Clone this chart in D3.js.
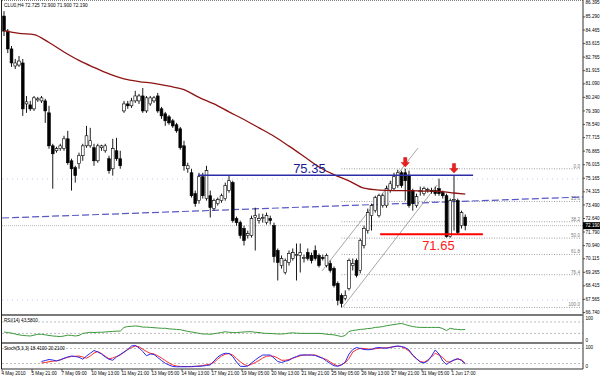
<!DOCTYPE html>
<html>
<head>
<meta charset="utf-8">
<script src="https://cdnjs.cloudflare.com/ajax/libs/d3/7.8.5/d3.min.js"></script>
<style>
  body { margin: 0; background: #fff; }
  svg { display: block; }
  text { font-family: "Liberation Sans", Arial, sans-serif; }
</style>
</head>
<body>
<div id="chart"></div>
<script>
// CLU0 H4 chart with SMA, channel, fibo levels, RSI and Stochastic windows

const chartTitle = 'CLU0,H4  72.725 72.900 71.900 72.190';

const opens = [85.34,84.40,83.28,82.21,82.27,82.40,79.83,79.77,79.52,80.08,
  80.02,80.02,79.27,77.20,76.89,77.02,77.02,77.64,76.26,75.83,
  76.08,76.58,77.20,77.20,77.08,76.26,77.08,76.89,76.39,75.76,
  76.89,76.39,79.39,79.83,79.71,80.02,80.02,80.33,79.39,79.83,
  80.02,80.33,79.52,79.21,79.02,78.77,78.52,78.27,77.20,75.76,
  75.51,74.20,73.76,75.26,73.89,74.07,73.26,73.57,73.76,73.89,
  74.39,74.89,72.63,72.38,72.01,71.57,71.57,72.70,72.51,72.63,
  72.38,72.63,72.19,70.63,69.69,69.25,69.88,70.13,70.32,70.32,
  70.13,70.50,70.32,70.63,70.32,70.19,69.69,69.82,69.50,68.56,
  67.81,67.63,68.25,69.69,70.00,69.38,70.95,71.88,72.82,73.13,
  72.82,73.45,73.45,74.39,74.51,74.70,75.51,75.51,75.33,74.39,
  73.45,74.32,74.20,74.39,74.39,74.39,74.51,74.26,74.07,71.51,
  73.76,73.76,72.19,72.725];
const highs = [85.65,84.53,83.46,82.65,82.84,82.65,80.33,80.02,80.33,80.27,
  80.33,80.15,79.71,77.33,77.14,77.33,77.83,78.14,76.39,75.95,
  76.77,77.33,78.45,78.33,77.33,77.33,77.27,77.33,76.58,77.64,
  77.70,76.89,80.02,80.02,80.21,80.65,80.46,80.83,80.33,80.33,
  80.33,80.52,79.64,79.33,79.14,78.89,78.64,78.39,77.52,76.14,
  75.76,74.39,75.51,75.51,75.95,74.39,73.89,73.95,74.20,74.89,
  75.33,75.01,72.76,72.51,72.19,71.88,72.82,73.32,72.94,72.94,
  73.01,72.82,72.38,70.76,70.32,70.13,70.63,70.76,71.07,71.07,
  70.38,70.76,70.50,70.95,70.44,70.38,70.44,70.00,69.63,68.69,
  67.94,68.13,70.13,70.13,70.13,71.38,72.19,73.26,73.57,74.07,
  74.20,74.20,74.70,75.01,75.51,75.70,75.64,75.76,75.64,74.51,
  74.20,74.64,74.64,74.57,74.57,74.64,75.14,74.39,74.20,73.89,
  75.33,73.89,73.13,72.90];
const lows = [84.09,83.02,82.15,82.02,82.15,79.08,79.27,79.39,79.39,79.96,
  79.89,78.64,77.02,74.51,76.77,76.89,76.89,76.01,74.39,74.89,
  75.76,76.26,77.08,77.08,75.95,76.14,76.89,76.77,75.45,75.33,
  76.26,75.76,79.27,79.52,79.58,79.89,79.83,79.27,79.27,79.71,
  79.89,79.27,78.89,78.45,78.52,78.33,78.02,76.95,75.64,75.51,
  73.95,73.38,73.57,73.89,73.76,72.70,73.13,73.45,73.63,73.76,
  74.26,72.38,72.19,71.38,70.95,71.38,71.44,70.63,72.32,72.38,
  72.26,72.26,69.88,68.75,69.50,69.13,69.69,70.00,68.75,69.25,
  69.88,70.00,69.82,70.00,69.57,70.00,69.57,69.25,68.31,67.19,
  67.06,67.50,68.13,69.38,68.94,69.19,70.76,71.69,71.88,73.01,
  72.70,73.32,73.32,74.26,74.39,74.57,74.57,73.76,73.32,73.13,
  73.32,74.07,74.07,74.26,74.20,74.07,74.07,73.89,71.44,71.44,
  71.88,71.63,72.01,71.90];
const closes = [84.40,83.28,82.40,82.40,82.52,79.52,79.96,79.52,80.21,80.15,
  80.21,79.39,77.20,76.70,77.02,77.20,77.64,76.14,75.76,75.33,
  76.58,77.20,77.83,77.52,76.26,77.20,77.20,77.20,75.64,77.02,
  76.39,75.95,79.83,79.71,80.02,80.33,80.33,79.39,80.21,80.21,
  80.21,79.39,79.08,78.77,78.64,78.45,78.14,77.08,75.95,75.95,
  74.07,73.57,75.26,74.07,75.64,73.32,73.76,73.82,74.07,74.70,
  75.01,72.51,72.38,71.57,71.26,71.69,72.63,72.82,72.63,72.70,
  72.82,72.51,70.25,69.88,70.13,70.00,70.44,70.50,70.38,70.50,
  70.19,70.13,70.00,70.13,69.69,70.13,70.32,69.38,68.44,67.50,
  67.31,67.81,70.00,69.82,69.07,71.26,72.01,73.01,73.45,73.95,
  74.07,74.07,74.51,74.82,75.26,75.51,74.70,75.01,73.45,73.57,
  74.01,74.39,74.51,74.45,74.32,74.20,74.20,74.07,71.51,73.76,
  73.82,71.76,73.01,72.19];

// moving average, read every 4th bar
const maBars = [0,4,8,12,16,20,24,28,32,36,40,44,48,52,56,60,64,68,72,76,80,84,88,92,96,100,104,108,112,116,120,123];
const maValues = [84.43,84.26,84.18,83.68,83.09,82.56,82.12,81.71,81.40,81.23,81.12,80.94,80.73,80.24,79.83,79.33,
  78.85,78.33,77.80,77.18,76.53,75.87,75.39,75.00,74.54,74.42,74.39,74.39,74.36,74.34,74.24,74.17];

const rsiValues = [35,33,31,28,25,23,22,21,24,27, 27,25,23,21,20,19,21,24,23,21,
  23,30,32,34,33,34,34,35,36,37, 38,38,51,54,55,56,55,52,52,51,
  50,49,48,48,46,45,44,43,40,37, 35,33,30,28,28,27,29,31,33,36,
  34,33,33,34,35,36,36,34,33,31, 30,30,29,28,28,29,31,32,31,30,
  30,30,30,30,30,29,27,26,25,22, 19,23,37,40,42,44,45,47,48,51,
  52,54,57,59,61,63,65,61,57,54, 52,51,51,51,51,51,51,47,40,48,
  45,44,43,43.58];

const stochStartBar = 10;
const stochMain = [28,32,36,34,30,35,41,46,50,48, 45,37,50,61,72,66,58,46,37,33,
  46,56,66,76,90,92,83,68,51,58, 56,44,32,21,14,8,7,7,7,7,
  8,9,9,10,12,14,30,46,56,61, 60,48,26,9,8,10,22,34,45,54,
  54,54,42,28,24,29,33,42,48,54, 54,54,54,52,46,41,30,20,11,9,
  14,26,58,76,84,80,76,75,76,82, 84,82,81,84,88,90,88,84,74,54,
  40,26,22,30,50,74,58,30,16,27, 34,40,32,18.41];
const stochSignal = [22,24,27,29,31,34,40,45,48,49, 50,46,41,50,62,68,60,49,39,42,
  48,54,65,76,84,90,87,77,68,61, 58,51,42,32,22,14,10,8,8,8,
  7,8,10,12,15,18,24,38,50,57, 60,54,40,27,16,11,17,24,32,42,
  49,50,49,42,33,33,36,41,46,51, 54,54,54,54,48,41,36,26,17,10,
  16,23,40,66,75,81,80,78,77,79, 81,82,83,85,87,89,87,80,70,52,
  38,28,25,34,46,61,54,44,28,25, 34,37,35,20.21];

const priceTicks = [86.395,85.290,84.465,83.615,82.765,81.915,81.090,80.240,79.390,78.540,77.715,76.865,
  76.015,75.165,74.315,73.490,72.640,71.790,70.940,70.115,69.265,68.415,67.565,66.740];
const timeLabels = ['4 May 2010','5 May 21:00','7 May 09:00','10 May 13:00','11 May 21:00','13 May 05:00',
  '14 May 13:00','17 May 21:00','19 May 05:00','20 May 13:00','21 May 21:00','25 May 05:00',
  '26 May 13:00','27 May 21:00','31 May 05:00','1 Jun 17:00'];
const barsPerLabel = 8;

const fibLevels = [0, 23.6, 38.2, 50, 61.8, 76.4, 100];
const fibLabels = ['0.0','23.6','38.2','50.0','61.8','76.4','100.0'];
const fibHigh = 75.76, fibLow = 67.06, fibStartBar = 90, fibEndBar = 153.6;

const resistance = 75.35, resistanceBars = [51.7, 125.1];
const support = 71.65, supportBars = [100.3, 127.7];
const trendLine = [[-0.5, 72.67], [154.4, 73.99]];
const channelUpper = [[84.8, 69.35], [110.4, 77.06]];
const channelLower = [[90.4, 67.09], [115.5, 74.74]];
const arrowBars = [107, 120];
const arrowPrices = [75.87, 75.49];
const dottedLevels = [75.12, 67.53];
const lastPrice = 72.19;

// layout
const W = 600, H = 376;
const plotLeft = 2, plotRight = 583;

const svg = d3.select('#chart').append('svg')
  .attr('width', W).attr('height', H)
  .style('background', '#fff');

const x = d3.scaleLinear().domain([0, 123]).range([4, 465.25]);
const y = d3.scaleLinear().domain([66.71, 86.35]).range([313, 0]);
const yRsi = d3.scaleLinear().domain([0, 100]).range([342, 313.4]);
const ySt = d3.scaleLinear().domain([0, 100]).range([368.5, 343.5]);

const defs = svg.append('defs');
function clip(id, top, bottom) {
  defs.append('clipPath').attr('id', id).append('rect')
    .attr('x', plotLeft).attr('y', top).attr('width', plotRight - plotLeft).attr('height', bottom - top);
}
clip('clipMain', 0, 314);
clip('clipRsi', 316, 342);
clip('clipSt', 344, 369);

const main = svg.append('g').attr('clip-path', 'url(#clipMain)');

// faint dotted levels
main.selectAll('line.lav').data(dottedLevels).join('line')
  .attr('x1', plotLeft).attr('x2', plotRight)
  .attr('y1', d => y(d)).attr('y2', d => y(d))
  .attr('stroke', '#b8b8ec').attr('stroke-width', 0.8).attr('stroke-dasharray', '1,4');

// bid line
main.append('line')
  .attr('x1', plotLeft).attr('x2', plotRight)
  .attr('y1', y(lastPrice)).attr('y2', y(lastPrice))
  .attr('stroke', '#a8a8a8').attr('stroke-width', 0.8).attr('stroke-dasharray', '1,1');

// fibonacci levels
const fibPrice = lv => fibHigh - (fibHigh - fibLow) * lv / 100;
main.selectAll('line.fib').data(fibLevels).join('line')
  .attr('x1', x(fibStartBar)).attr('x2', x(fibEndBar))
  .attr('y1', d => y(fibPrice(d))).attr('y2', d => y(fibPrice(d)))
  .attr('stroke', '#8c8c8c').attr('stroke-width', 0.8).attr('stroke-dasharray', '1,1.5');
main.selectAll('text.fib').data(fibLevels).join('text')
  .attr('x', x(fibEndBar)).attr('y', d => y(fibPrice(d)) - 1)
  .attr('text-anchor', 'end').attr('font-size', 4.6).attr('fill', '#7a7a7a')
  .text((d, i) => fibLabels[i]);

// dashed trend line
main.append('line')
  .attr('x1', x(trendLine[0][0])).attr('y1', y(trendLine[0][1]))
  .attr('x2', x(trendLine[1][0])).attr('y2', y(trendLine[1][1]))
  .attr('stroke', '#5858c8').attr('stroke-width', 1.2).attr('stroke-dasharray', '7,3');

// channel
[channelUpper, channelLower].forEach(seg => {
  main.append('line')
    .attr('x1', x(seg[0][0])).attr('y1', y(seg[0][1]))
    .attr('x2', x(seg[1][0])).attr('y2', y(seg[1][1]))
    .attr('stroke', '#909090').attr('stroke-width', 0.8);
});

// candles
const bars = opens.map((o, i) => ({ i, o, h: highs[i], l: lows[i], c: closes[i] }));
const candleG = main.append('g');
candleG.selectAll('line').data(bars).join('line')
  .attr('x1', d => x(d.i)).attr('x2', d => x(d.i))
  .attr('y1', d => y(d.h)).attr('y2', d => y(d.l))
  .attr('stroke', '#000').attr('stroke-width', 0.9);
candleG.selectAll('rect').data(bars).join('rect')
  .attr('x', d => x(d.i) - 1.4).attr('width', 2.8)
  .attr('y', d => y(Math.max(d.o, d.c)))
  .attr('height', d => Math.max(0.8, Math.abs(y(d.o) - y(d.c))))
  .attr('fill', d => d.c >= d.o ? '#fff' : '#000')
  .attr('stroke', '#000').attr('stroke-width', 0.6);

// moving average
main.append('path')
  .datum(maBars.map((b, i) => [b, maValues[i]]))
  .attr('fill', 'none').attr('stroke', '#8e1414').attr('stroke-width', 1.3)
  .attr('d', d3.line().x(d => x(d[0])).y(d => y(d[1])).curve(d3.curveMonotoneX));

// horizontal resistance / support
main.append('line')
  .attr('x1', x(resistanceBars[0])).attr('x2', x(resistanceBars[1]))
  .attr('y1', y(resistance)).attr('y2', y(resistance))
  .attr('stroke', '#2c2ca4').attr('stroke-width', 1.4);
main.append('text')
  .attr('x', x(77.1)).attr('y', y(resistance) - 2.5)
  .attr('font-size', 13).attr('fill', '#1c1c90')
  .text(resistance.toFixed(2));

main.append('line')
  .attr('x1', x(supportBars[0])).attr('x2', x(supportBars[1]))
  .attr('y1', y(support)).attr('y2', y(support))
  .attr('stroke', '#ff0000').attr('stroke-width', 2);
main.append('text')
  .attr('x', x(111.5)).attr('y', y(support) + 15.5)
  .attr('font-size', 13).attr('fill', '#ff1818')
  .text(support.toFixed(2));

// arrows
main.selectAll('path.arrow').data(arrowBars).join('path')
  .attr('transform', (d, i) => `translate(${x(d)},${y(arrowPrices[i])})`)
  .attr('d', 'M0,0 L-4.2,-4.6 L-1.6,-4.6 L-1.6,-9.5 L1.6,-9.5 L1.6,-4.6 L4.2,-4.6 Z')
  .attr('fill', '#ee1c1c').attr('stroke', '#b00000').attr('stroke-width', 0.4);

// title
svg.append('text').attr('x', 4).attr('y', 7)
  .attr('font-size', 4.8).attr('fill', '#000').text(chartTitle);

// RSI window
const rsiG = svg.append('g').attr('clip-path', 'url(#clipRsi)');
[70, 30].forEach(lv => {
  rsiG.append('line').attr('x1', plotLeft).attr('x2', plotRight)
    .attr('y1', yRsi(lv)).attr('y2', yRsi(lv))
    .attr('stroke', '#a0a0a0').attr('stroke-width', 0.7).attr('stroke-dasharray', '2,2');
});
rsiG.append('path').datum(rsiValues)
  .attr('fill', 'none').attr('stroke', '#3b983b').attr('stroke-width', 1)
  .attr('d', d3.line().x((d, i) => x(i)).y(d => yRsi(d)));
svg.append('text').attr('x', 4).attr('y', 322)
  .attr('font-size', 4.6).attr('fill', '#000')
  .text('RSI(14) ' + rsiValues[rsiValues.length - 1].toFixed(4));

// Stochastic window
const stG = svg.append('g').attr('clip-path', 'url(#clipSt)');
[80, 20].forEach(lv => {
  stG.append('line').attr('x1', plotLeft).attr('x2', plotRight)
    .attr('y1', ySt(lv)).attr('y2', ySt(lv))
    .attr('stroke', '#a0a0a0').attr('stroke-width', 0.7).attr('stroke-dasharray', '2,2');
});
const stLine = d3.line().x((d, i) => x(i + stochStartBar)).y(d => ySt(d));
stG.append('path').datum(stochSignal)
  .attr('fill', 'none').attr('stroke', '#ff2a2a').attr('stroke-width', 1).attr('d', stLine);
stG.append('path').datum(stochMain)
  .attr('fill', 'none').attr('stroke', '#2a2aee').attr('stroke-width', 1).attr('d', stLine);
svg.append('text').attr('x', 4).attr('y', 350)
  .attr('font-size', 4.6).attr('fill', '#000')
  .text('Stoch(5,3,3) ' + stochMain[stochMain.length - 1].toFixed(4) + ' ' +
        stochSignal[stochSignal.length - 1].toFixed(4));

// frame and separators
svg.append('line').attr('x1', plotLeft).attr('x2', plotRight).attr('y1', 0.5).attr('y2', 0.5)
  .attr('stroke', '#808080').attr('stroke-width', 1).attr('stroke-dasharray', '1,1');
svg.append('line').attr('x1', 1.5).attr('x2', 1.5).attr('y1', 0).attr('y2', 369)
  .attr('stroke', '#202020').attr('stroke-width', 1);
svg.append('line').attr('x1', plotRight).attr('x2', plotRight).attr('y1', 0).attr('y2', 369)
  .attr('stroke', '#303030').attr('stroke-width', 1);
[315, 343].forEach(sy => {
  svg.append('line').attr('x1', plotLeft).attr('x2', plotRight).attr('y1', sy).attr('y2', sy)
    .attr('stroke', '#7a7a7a').attr('stroke-width', 2);
});
svg.append('line').attr('x1', plotLeft).attr('x2', plotRight).attr('y1', 369).attr('y2', 369)
  .attr('stroke', '#303030').attr('stroke-width', 1);

// price axis
const axisG = svg.append('g');
axisG.selectAll('line').data(priceTicks).join('line')
  .attr('x1', plotRight).attr('x2', plotRight + 2)
  .attr('y1', d => y(d)).attr('y2', d => y(d))
  .attr('stroke', '#303030').attr('stroke-width', 0.8);
axisG.selectAll('text').data(priceTicks).join('text')
  .attr('x', plotRight + 2.5).attr('y', d => Math.max(4, y(d) + 1.6))
  .attr('font-size', 4.6).attr('fill', '#000')
  .text(d => d.toFixed(3));

// current price box
svg.append('rect').attr('x', plotRight).attr('y', y(lastPrice) - 3.5)
  .attr('width', 17).attr('height', 7).attr('fill', '#000');
svg.append('text').attr('x', plotRight + 2.5).attr('y', y(lastPrice) + 1.6)
  .attr('font-size', 4.6).attr('fill', '#fff').text(lastPrice.toFixed(3));

// sub window scale labels
[[318, '100'], [340, '0'], [347, '100'], [366.5, '0']].forEach(([ty, t]) => {
  svg.append('text').attr('x', plotRight + 2.5).attr('y', ty + 1.6)
    .attr('font-size', 4.6).attr('fill', '#000').text(t);
});

// time axis
const timeG = svg.append('g');
timeG.selectAll('line').data(timeLabels).join('line')
  .attr('x1', (d, i) => x(i * barsPerLabel) - 2).attr('x2', (d, i) => x(i * barsPerLabel) - 2)
  .attr('y1', 369).attr('y2', 371.5)
  .attr('stroke', '#303030').attr('stroke-width', 0.8);
timeG.selectAll('text').data(timeLabels).join('text')
  .attr('x', (d, i) => x(i * barsPerLabel) - 2.5).attr('y', 374.5)
  .attr('font-size', 4.6).attr('fill', '#000')
  .text(d => d);
</script>
</body>
</html>
